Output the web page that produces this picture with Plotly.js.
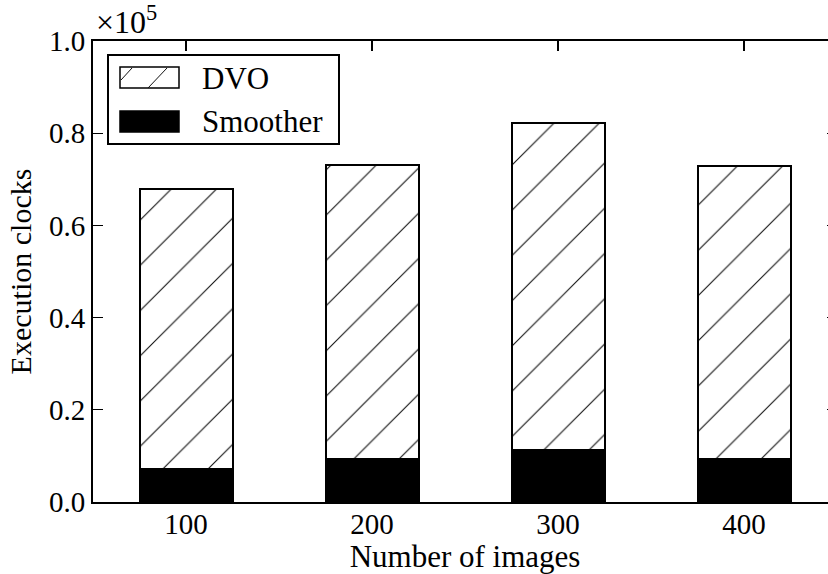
<!DOCTYPE html>
<html>
<head>
<meta charset="utf-8">
<script src="https://cdn.plot.ly/plotly-3.0.1.min.js"></script>
<style>
html, body { margin: 0; padding: 0; overflow: hidden; background: #fff; }
#chart { width: 860px; height: 574px; }
</style>
</head>
<body>
<div id="chart"></div>
<script>
// Data
const images = [100, 200, 300, 400];
const tickLabels = ['100', '200', '300', '400'];
const smoother = [7250, 9420, 11220, 9420];
const dvo = [60750, 63600, 71080, 63560];
const yTickVals = [0, 20000, 40000, 60000, 80000, 100000];
const yTickText = ['0.0', '0.2', '0.4', '0.6', '0.8', '1.0'];

const FONT = 'Liberation Serif, Times New Roman, serif';
const W = 860, H = 574;
const M = {l: 93, r: 23, t: 41, b: 72};
const PW = W - M.l - M.r, PH = H - M.t - M.b;
const px = x => (x - M.l) / PW;
const py = y => (H - M.b - y) / PH;

const traces = [
  {
    type: 'bar', name: 'Smoother', x: images, y: smoother, width: 50,
    marker: {color: '#000', line: {color: '#000', width: 2}},
    hoverinfo: 'skip'
  },
  {
    type: 'bar', name: 'DVO', x: images, y: dvo, width: 50,
    marker: {
      color: '#fff',
      line: {color: '#000', width: 2},
      pattern: {shape: '/', size: 32, solidity: 0.035, fgcolor: '#111', bgcolor: '#fff', fillmode: 'replace'}
    },
    hoverinfo: 'skip'
  }
];

// legend drawn manually (box, patches)
const lg = {x0: 108, x1: 339, y0: 55, y1: 144};
const shapes = [
  {type: 'rect', xref: 'paper', yref: 'paper', x0: px(lg.x0), x1: px(lg.x1), y0: py(lg.y1), y1: py(lg.y0),
   line: {color: '#000', width: 2}, fillcolor: '#fff', layer: 'above'},
  {type: 'rect', xref: 'paper', yref: 'paper', x0: px(120), x1: px(179), y0: py(88), y1: py(67),
   line: {color: '#000', width: 1.5}, fillcolor: '#fff', layer: 'above'},
  {type: 'line', xref: 'paper', yref: 'paper', x0: px(121), y0: py(80), x1: px(132), y1: py(68),
   line: {color: '#111', width: 1}, layer: 'above'},
  {type: 'line', xref: 'paper', yref: 'paper', x0: px(148), y0: py(88), x1: px(167), y1: py(68),
   line: {color: '#111', width: 1}, layer: 'above'},
  {type: 'rect', xref: 'paper', yref: 'paper', x0: px(120), x1: px(179), y0: py(132), y1: py(111),
   line: {color: '#000', width: 1.5}, fillcolor: '#000', layer: 'above'}
];

const annotations = [
  {xref: 'paper', yref: 'paper', x: px(200), y: py(78), xanchor: 'left', yanchor: 'middle',
   text: 'DVO', showarrow: false, font: {family: FONT, size: 31, color: '#000'}},
  {xref: 'paper', yref: 'paper', x: px(200), y: py(121), xanchor: 'left', yanchor: 'middle',
   text: 'Smoother', showarrow: false, font: {family: FONT, size: 31, color: '#000'}},
  {xref: 'paper', yref: 'paper', x: px(94), y: py(42), xanchor: 'left', yanchor: 'bottom',
   text: '×10<sup>5</sup>', showarrow: false, font: {family: FONT, size: 32, color: '#000'}}
];

const layout = {
  width: W, height: H,
  margin: M,
  paper_bgcolor: '#fff', plot_bgcolor: '#fff',
  barmode: 'stack',
  showlegend: false,
  font: {family: FONT, size: 28, color: '#000'},
  xaxis: {
    range: [50, 450], tickvals: images, ticktext: tickLabels,
    showline: true, linecolor: '#000', linewidth: 2, mirror: 'ticks',
    ticks: 'inside', ticklen: 10, tickwidth: 1.2, tickcolor: '#000',
    showgrid: false, zeroline: false,
    ticklabelstandoff: -5,
    tickfont: {family: FONT, size: 29, color: '#000'},
    title: {text: 'Number of images', font: {family: FONT, size: 31, color: '#000'}, standoff: 6}
  },
  yaxis: {
    range: [0, 100000], tickvals: yTickVals, ticktext: yTickText,
    showline: true, linecolor: '#000', linewidth: 2, mirror: 'ticks',
    ticks: 'inside', ticklen: 10, tickwidth: 1.2, tickcolor: '#000',
    showgrid: false, zeroline: false,
    tickfont: {family: FONT, size: 29, color: '#000'},
    title: {text: 'Execution clocks', font: {family: FONT, size: 30, color: '#000'}, standoff: 8}
  },
  shapes: shapes,
  annotations: annotations
};

Plotly.newPlot('chart', traces, layout, {displayModeBar: false, staticPlot: true});
</script>
</body>
</html>
